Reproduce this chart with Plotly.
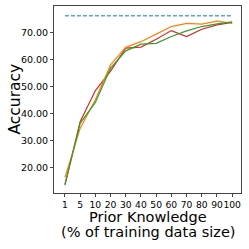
import plotly.graph_objects as go

categories = ["1", "5", "10", "20", "30", "40", "50", "60", "70", "80", "90", "100"]
red = [13.4, 36.9, 48.4, 55.6, 64.1, 64.5, 67.4, 70.6, 68.4, 71.1, 72.7, 73.6]
orange = [16.3, 34.4, 45.0, 57.9, 64.4, 66.5, 69.3, 72.1, 73.3, 73.0, 74.1, 73.3]
green = [13.8, 36.3, 44.0, 56.7, 63.1, 65.6, 65.9, 68.4, 70.5, 72.1, 73.1, 73.8]
baseline = [76.1] * len(categories)
y_ticks = [20, 30, 40, 50, 60, 70]

fig = go.Figure()
fig.add_trace(go.Scatter(x=list(range(len(categories))), y=baseline, mode="lines",
                         line=dict(color="#5f9fd3", width=1.6, dash="4px,2px")))
fig.add_trace(go.Scatter(x=list(range(len(categories))), y=red, mode="lines",
                         line=dict(color="#d62728", width=1.2)))
fig.add_trace(go.Scatter(x=list(range(len(categories))), y=orange, mode="lines",
                         line=dict(color="#ff7f0e", width=1.2)))
fig.add_trace(go.Scatter(x=list(range(len(categories))), y=green, mode="lines",
                         line=dict(color="#2ca02c", width=1.2)))

fig.update_layout(
    width=249, height=249,
    margin=dict(l=54, r=8, t=6, b=56, autoexpand=False),
    plot_bgcolor="white", paper_bgcolor="white",
    showlegend=False,
    font=dict(family="DejaVu Sans", color="black"),
)
fig.update_xaxes(
    tickmode="array", tickvals=list(range(len(categories))), ticktext=categories,
    tickangle=0, automargin=False,
    range=[-0.72, 11.58], showgrid=False, zeroline=False,
    showline=True, mirror=True, linecolor="#444", linewidth=1,
    ticks="outside", ticklen=3, tickcolor="#444", tickfont=dict(size=9.2),
)
fig.update_yaxes(
    tickmode="array", tickvals=y_ticks, tickformat=".2f", automargin=False,
    range=[10.5, 79.7], showgrid=False, zeroline=False,
    showline=True, mirror=True, linecolor="#444", linewidth=1,
    ticks="outside", ticklen=3, tickcolor="#444", tickfont=dict(size=9.5),
)
fig.add_annotation(text="Prior Knowledge", xref="paper", yref="paper", x=0.5, y=0,
                   yshift=-24, showarrow=False, font=dict(size=14.5), xanchor="center", yanchor="middle")
fig.add_annotation(text="(% of training data size)", xref="paper", yref="paper", x=0.5, y=0,
                   yshift=-39, showarrow=False, font=dict(size=14.5), xanchor="center", yanchor="middle")
fig.add_annotation(text="Accuracy", xref="paper", yref="paper", x=0, y=0.5,
                   xshift=-40, showarrow=False, font=dict(size=15.5), textangle=-90,
                   xanchor="center", yanchor="middle")
fig.write_html("out.html", config={"displayModeBar": False},
               post_script="document.body.style.margin='0';document.body.style.overflow='hidden';")
